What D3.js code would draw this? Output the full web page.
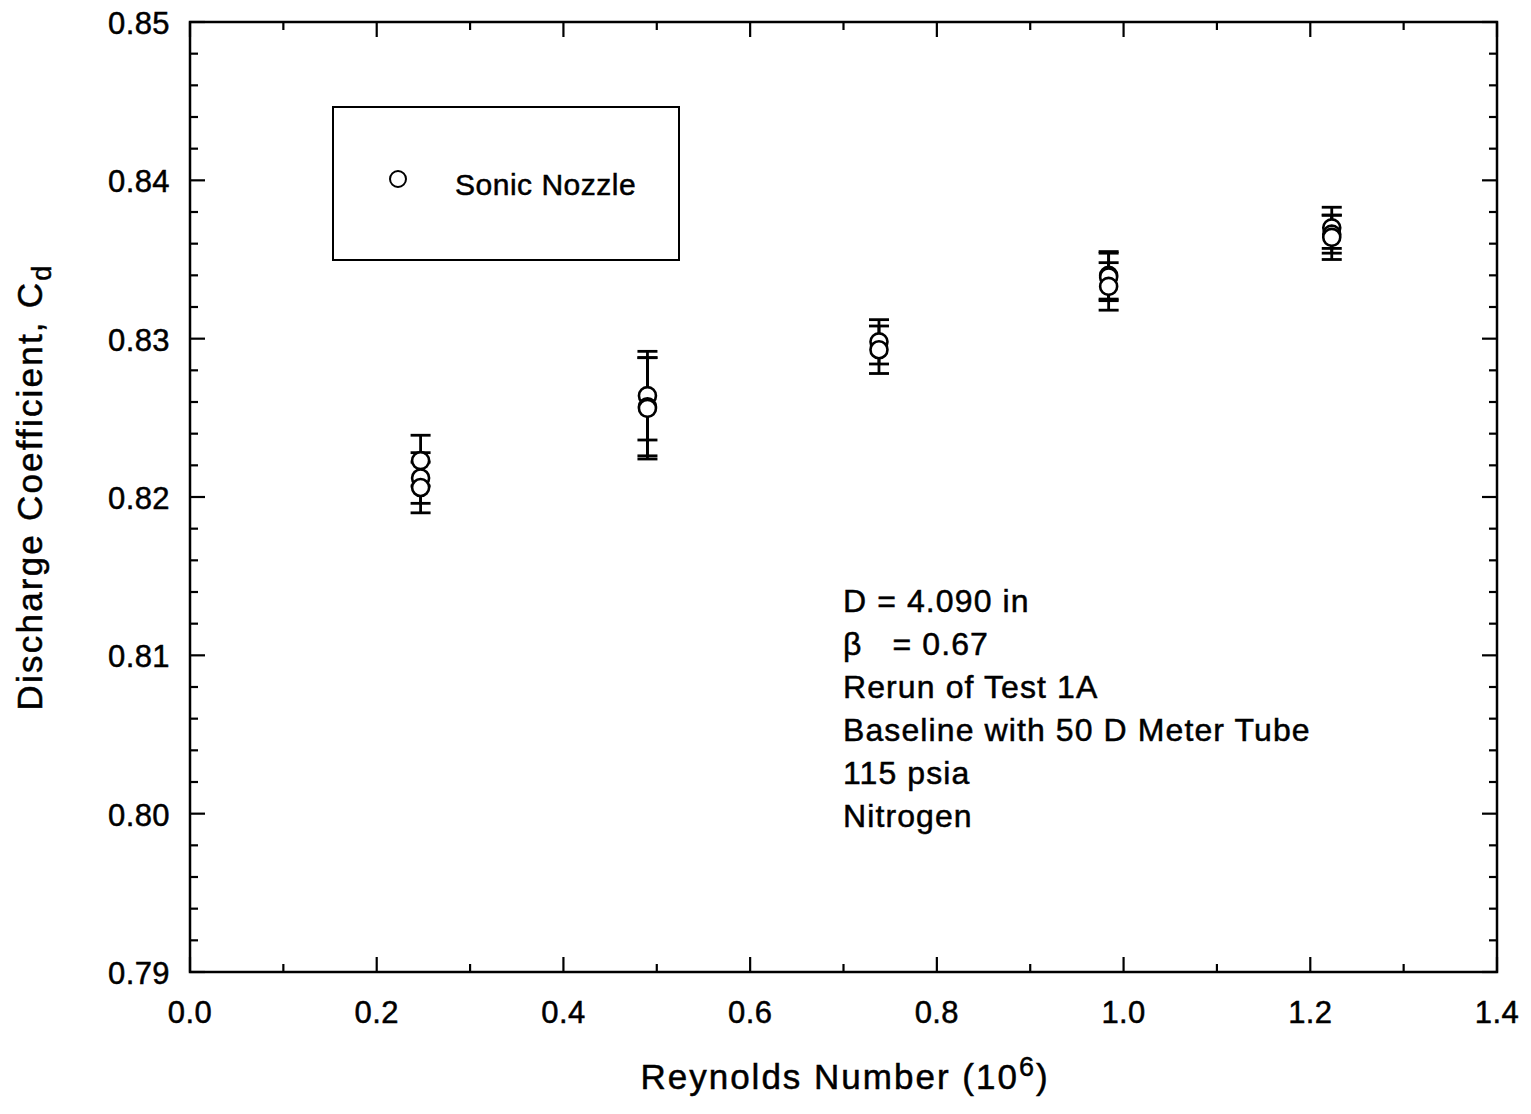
<!DOCTYPE html>
<html>
<head>
<meta charset="utf-8">
<script src="https://cdn.jsdelivr.net/npm/d3@7"></script>
<style>
  body { margin: 0; background: #fff; }
  svg { display: block; font-family: "Liberation Sans", Arial, Helvetica, sans-serif; }
  text { stroke: #000; stroke-width: 0.5px; }
</style>
</head>
<body>
<svg id="chart" width="1531" height="1114"></svg>
<script>
// Reynolds number (10^6) for each run
const reynolds = [0.247, 0.247, 0.247, 0.490, 0.490, 0.490, 0.738, 0.738, 0.984, 0.984, 0.984, 1.223, 1.223, 1.223];
// Discharge coefficient measured at each run
const cd = [0.8223, 0.8212, 0.8206, 0.8264, 0.8257, 0.8256, 0.8298, 0.8293, 0.8340, 0.8339, 0.8333, 0.8370, 0.8366, 0.8364];
// Uncertainty (half-width of error bar) for each run
const cdErr = [0.0016, 0.0016, 0.0016, 0.0028, 0.0031, 0.0032, 0.0014, 0.0015, 0.0015, 0.0015, 0.0015, 0.0013, 0.0012, 0.0014];

const xTicks = [0.0, 0.2, 0.4, 0.6, 0.8, 1.0, 1.2, 1.4];
const yTicks = [0.79, 0.80, 0.81, 0.82, 0.83, 0.84, 0.85];
const legendLabel = "Sonic Nozzle";
const notes = ["D = 4.090 in", "\u03B2   = 0.67", "Rerun of Test 1A", "Baseline with 50 D Meter Tube", "115 psia", "Nitrogen"];

(function () {
const svg = d3.select("#chart");
const pL = 190, pR = 1497, pT = 22, pB = 972;

const x = d3.scaleLinear().domain([0, 1.4]).range([pL, pR]);
const y = d3.scaleLinear().domain([0.79, 0.85]).range([pB, pT]);

const ink = "#000";

// frame
svg.append("rect")
  .attr("x", pL).attr("y", pT)
  .attr("width", pR - pL).attr("height", pB - pT)
  .attr("fill", "none").attr("stroke", ink).attr("stroke-width", 2.5);

// ticks (inward, on all four sides)
const xMinor = d3.range(0, 1.4001, 0.1);
const yMinor = d3.range(0.79, 0.85001, 0.002);
const tickG = svg.append("g").attr("stroke", ink).attr("stroke-width", 2.2);
xMinor.forEach((v, i) => {
  const len = (i % 2 === 0) ? 15 : 8;
  tickG.append("line").attr("x1", x(v)).attr("x2", x(v)).attr("y1", pB).attr("y2", pB - len);
  tickG.append("line").attr("x1", x(v)).attr("x2", x(v)).attr("y1", pT).attr("y2", pT + len);
});
yMinor.forEach((v, i) => {
  const len = (i % 5 === 0) ? 15 : 8;
  tickG.append("line").attr("y1", y(v)).attr("y2", y(v)).attr("x1", pL).attr("x2", pL + len);
  tickG.append("line").attr("y1", y(v)).attr("y2", y(v)).attr("x1", pR).attr("x2", pR - len);
});

// tick labels
svg.append("g").selectAll("text").data(xTicks).join("text")
  .attr("x", d => x(d)).attr("y", 1023)
  .attr("text-anchor", "middle").attr("font-size", 31).attr("letter-spacing", 0.4).attr("fill", ink)
  .text(d => d.toFixed(1));
svg.append("g").selectAll("text").data(yTicks).join("text")
  .attr("x", 170).attr("y", d => y(d) + 12)
  .attr("text-anchor", "end").attr("font-size", 31).attr("letter-spacing", 0.4).attr("fill", ink)
  .text(d => d.toFixed(2));

// axis titles
const xt = svg.append("text").attr("x", 845).attr("y", 1089)
  .attr("text-anchor", "middle").attr("font-size", 35).attr("letter-spacing", 2.0).attr("fill", ink);
xt.append("tspan").text("Reynolds Number (10");
xt.append("tspan").attr("font-size", 27).attr("dy", -13).text("6");
xt.append("tspan").attr("dy", 13).text(")");

const yt = svg.append("text")
  .attr("transform", "translate(42,487) rotate(-90)")
  .attr("text-anchor", "middle").attr("font-size", 35).attr("letter-spacing", 2.2).attr("fill", ink);
yt.append("tspan").text("Discharge Coefficient, C");
yt.append("tspan").attr("font-size", 27).attr("dy", 9).text("d");

// error bars
const capW = 10;
const data = reynolds.map((r, i) => ({ r, c: cd[i], e: cdErr[i] }));
const eg = svg.append("g").attr("stroke", ink).attr("stroke-width", 2.8);
data.forEach(d => {
  const cx = x(d.r);
  eg.append("line").attr("x1", cx).attr("x2", cx).attr("y1", y(d.c + d.e)).attr("y2", y(d.c - d.e));
  [d.c + d.e, d.c - d.e].forEach(v => {
    eg.append("line").attr("x1", cx - capW).attr("x2", cx + capW).attr("y1", y(v)).attr("y2", y(v));
  });
});

// markers
svg.append("g").selectAll("circle").data(data).join("circle")
  .attr("cx", d => x(d.r)).attr("cy", d => y(d.c)).attr("r", 8.5)
  .attr("fill", "#fff").attr("stroke", ink).attr("stroke-width", 2.6);

// legend
svg.append("rect").attr("x", 333).attr("y", 107).attr("width", 346).attr("height", 153)
  .attr("fill", "#fff").attr("stroke", ink).attr("stroke-width", 2);
svg.append("circle").attr("cx", 398).attr("cy", 179).attr("r", 8)
  .attr("fill", "#fff").attr("stroke", ink).attr("stroke-width", 2);
svg.append("text").attr("x", 455).attr("y", 195).attr("font-size", 30).attr("letter-spacing", 0.5).attr("fill", ink).text(legendLabel);

// run description
svg.append("g").selectAll("text").data(notes).join("text")
  .attr("x", 843).attr("y", (d, i) => 612 + i * 43)
  .attr("font-size", 32).attr("letter-spacing", 1.1).attr("fill", ink)
  .attr("xml:space", "preserve").style("white-space", "pre")
  .text(d => d);
})();
</script>
</body>
</html>
